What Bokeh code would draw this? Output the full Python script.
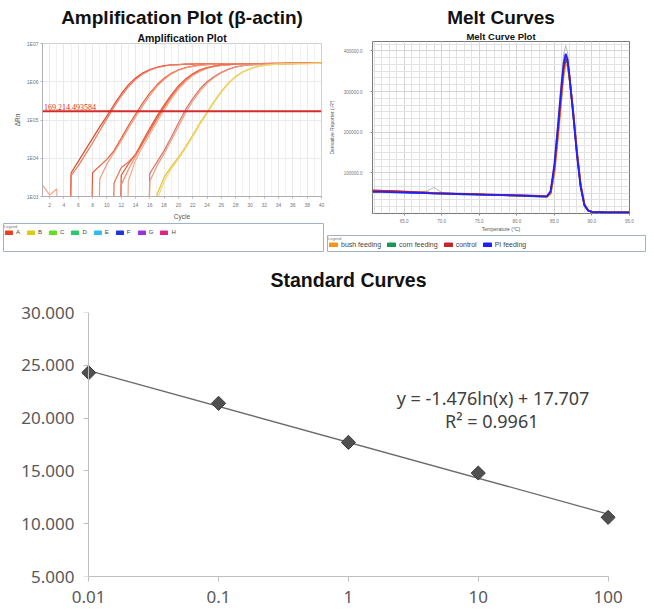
import numpy as np
from bokeh.plotting import figure
from bokeh.layouts import column, row
from bokeh.models import (Range1d, FixedTicker, Title, Label, Legend, LegendItem, LinearAxis,
                          NumeralTickFormatter, Span, CustomJSTickFormatter)
from bokeh.embed import file_html
from bokeh.resources import INLINE

# ---------------- data: amplification plot (log10 dRn per cycle) ----------------
LOW = -6.0   # no signal yet (below the plotted range)
cycles = list(range(1, 41))
amp_A1 = [LOW, LOW, LOW, LOW, 3.62, 3.92, 4.22, 4.52, 4.82, 5.10, 5.40, 5.68, 5.92, 6.10, 6.23, 6.32, 6.38, 6.42, 6.44, 6.45,
          6.46, 6.46, 6.47, 6.47, 6.47, 6.47, 6.47, 6.47, 6.47, 6.47, 6.47, 6.48, 6.48, 6.48, 6.48, 6.48, 6.48, 6.48, 6.48, 6.48]
amp_A2 = [LOW, LOW, LOW, LOW, 3.55, 3.80, 4.10, 4.40, 4.72, 5.03, 5.34, 5.62, 5.87, 6.06, 6.20, 6.30, 6.37, 6.41, 6.44, 6.45,
          6.46, 6.47, 6.47, 6.47, 6.47, 6.47, 6.47, 6.47, 6.47, 6.47, 6.47, 6.47, 6.48, 6.48, 6.48, 6.48, 6.48, 6.48, 6.48, 6.48]
amp_B1 = [LOW, LOW, LOW, LOW, LOW, LOW, LOW, 3.62, 3.80, 3.97, 4.20, 4.52, 4.85, 5.15, 5.44, 5.70, 5.92, 6.09, 6.22, 6.31,
          6.37, 6.41, 6.44, 6.45, 6.46, 6.47, 6.47, 6.47, 6.47, 6.47, 6.47, 6.47, 6.47, 6.48, 6.48, 6.48, 6.48, 6.48, 6.48, 6.48]
amp_B2 = [LOW, LOW, LOW, LOW, LOW, LOW, LOW, LOW, 3.45, 3.85, 4.15, 4.45, 4.78, 5.08, 5.37, 5.64, 5.88, 6.06, 6.20, 6.30,
          6.36, 6.40, 6.43, 6.45, 6.46, 6.46, 6.47, 6.47, 6.47, 6.47, 6.47, 6.47, 6.47, 6.47, 6.48, 6.48, 6.48, 6.48, 6.48, 6.48]
amp_C1 = [LOW, LOW, LOW, LOW, LOW, LOW, LOW, LOW, LOW, LOW, LOW, 3.55, 3.85, 4.10, 4.45, 4.78, 5.10, 5.39, 5.66, 5.89,
          6.07, 6.21, 6.31, 6.37, 6.41, 6.44, 6.45, 6.46, 6.47, 6.47, 6.47, 6.47, 6.47, 6.47, 6.48, 6.48, 6.48, 6.48, 6.48, 6.48]
amp_C2 = [LOW, LOW, LOW, LOW, LOW, LOW, LOW, LOW, LOW, LOW, LOW, 3.30, 3.70, 4.05, 4.38, 4.70, 5.02, 5.32, 5.60, 5.84,
          6.03, 6.18, 6.29, 6.36, 6.40, 6.43, 6.45, 6.46, 6.47, 6.47, 6.47, 6.47, 6.47, 6.47, 6.48, 6.48, 6.48, 6.48, 6.48, 6.48]
amp_C3 = [LOW, LOW, LOW, LOW, LOW, LOW, LOW, LOW, LOW, LOW, LOW, LOW, 3.40, 3.95, 4.30, 4.62, 4.95, 5.26, 5.55, 5.80,
          6.00, 6.16, 6.27, 6.35, 6.40, 6.43, 6.45, 6.46, 6.46, 6.47, 6.47, 6.47, 6.47, 6.47, 6.47, 6.48, 6.48, 6.48, 6.48, 6.48]
amp_C4 = [LOW, LOW, LOW, LOW, LOW, LOW, LOW, LOW, LOW, LOW, 3.35, 3.75, 3.90, 4.10, 4.40, 4.72, 5.05, 5.35, 5.63, 5.87,
          6.05, 6.20, 6.30, 6.36, 6.41, 6.44, 6.45, 6.46, 6.47, 6.47, 6.47, 6.47, 6.47, 6.47, 6.48, 6.48, 6.48, 6.48, 6.48, 6.48]
amp_D1 = [LOW, LOW, LOW, LOW, LOW, LOW, LOW, LOW, LOW, LOW, LOW, LOW, LOW, LOW, LOW, 3.60, 3.90, 4.20, 4.55, 4.92,
          5.27, 5.56, 5.81, 6.00, 6.14, 6.25, 6.33, 6.39, 6.42, 6.44, 6.45, 6.46, 6.47, 6.47, 6.47, 6.47, 6.48, 6.48, 6.48, 6.48]
amp_D2 = [LOW, LOW, LOW, LOW, LOW, LOW, LOW, LOW, LOW, LOW, LOW, LOW, LOW, LOW, LOW, 3.40, 3.80, 4.12, 4.47, 4.83,
          5.19, 5.49, 5.75, 5.96, 6.11, 6.23, 6.32, 6.38, 6.42, 6.44, 6.45, 6.46, 6.47, 6.47, 6.47, 6.47, 6.48, 6.48, 6.48, 6.48]
amp_E1 = [LOW, LOW, LOW, LOW, LOW, LOW, LOW, LOW, LOW, LOW, LOW, LOW, LOW, LOW, LOW, LOW, 3.05, 3.50, 3.78, 4.02,
          4.30, 4.60, 4.92, 5.20, 5.49, 5.75, 5.97, 6.14, 6.26, 6.34, 6.40, 6.43, 6.45, 6.46, 6.47, 6.47, 6.47, 6.47, 6.48, 6.48]
amp_E2 = [LOW, LOW, LOW, LOW, LOW, LOW, LOW, LOW, LOW, LOW, LOW, LOW, LOW, LOW, LOW, LOW, 2.90, 3.40, 3.72, 3.98,
          4.26, 4.56, 4.88, 5.17, 5.46, 5.72, 5.95, 6.12, 6.25, 6.33, 6.39, 6.43, 6.45, 6.46, 6.47, 6.47, 6.47, 6.47, 6.48, 6.48]
amp_N = [3.30, 3.04, 3.20, LOW, LOW, LOW, LOW, LOW, LOW, LOW, LOW, LOW, LOW, LOW, LOW, LOW, LOW, LOW, LOW, LOW,
         LOW, LOW, LOW, LOW, LOW, LOW, LOW, LOW, LOW, LOW, LOW, LOW, LOW, LOW, LOW, LOW, LOW, LOW, LOW, LOW]
amp_curves = [amp_N, amp_A1, amp_A2, amp_B1, amp_B2, amp_C1, amp_C2, amp_C3, amp_C4, amp_D1, amp_D2, amp_E1, amp_E2]
amp_colors = ["#f2a88e", "#e4472b", "#f07a5c", "#ea5a3a", "#f19a7a", "#e2502f", "#ef8c6c", "#f3a98c",
              "#e97050", "#d9735f", "#eb9c86", "#e6c02a", "#f0d878"]
threshold = 169214.493584
amp_yticks = [1e3, 1e4, 1e5, 1e6, 1e7]
amp_xticks = list(range(2, 41, 2))
well_labels = ["A", "B", "C", "D", "E", "F", "G", "H"]
well_colors = ["#e8401c", "#d9cc10", "#66dd22", "#22cc66", "#33bbee", "#2233dd", "#9933dd", "#dd2288"]

# ---------------- data: melt curves (derivative reporter, x 1e5) ----------------
melt_temp = [60.8, 62.0, 64.0, 66.0, 68.0, 69.0, 70.0, 72.0, 74.0, 76.0, 78.0, 80.0, 82.0, 83.0, 84.0, 84.5,
             85.0, 85.5, 86.0, 86.25, 86.5, 86.75, 87.0, 87.5, 88.0, 88.5, 89.0, 89.5, 90.0, 92.0, 95.0]
melt_other = [0.52, 0.53, 0.53, 0.52, 0.55, 0.64, 0.52, 0.49, 0.48, 0.47, 0.46, 0.45, 0.44, 0.43, 0.42, 0.56,
              1.25, 2.35, 3.45, 3.92, 4.13, 3.96, 3.50, 2.45, 1.40, 0.62, 0.19, 0.06, 0.03, 0.03, 0.03]
melt_corn = [0.55, 0.55, 0.54, 0.52, 0.51, 0.50, 0.49, 0.48, 0.47, 0.46, 0.45, 0.44, 0.43, 0.42, 0.41, 0.50,
             1.05, 2.00, 3.05, 3.52, 3.76, 3.70, 3.36, 2.48, 1.50, 0.68, 0.21, 0.07, 0.04, 0.03, 0.03]
melt_bush = [0.54, 0.54, 0.53, 0.52, 0.51, 0.50, 0.49, 0.48, 0.47, 0.46, 0.45, 0.44, 0.43, 0.42, 0.41, 0.48,
             0.98, 1.90, 2.95, 3.42, 3.66, 3.64, 3.35, 2.52, 1.56, 0.72, 0.24, 0.08, 0.04, 0.03, 0.03]
melt_control = [0.57, 0.56, 0.55, 0.53, 0.51, 0.50, 0.50, 0.49, 0.48, 0.47, 0.46, 0.45, 0.44, 0.43, 0.42, 0.52,
                1.10, 2.05, 3.10, 3.58, 3.82, 3.74, 3.38, 2.50, 1.52, 0.70, 0.22, 0.08, 0.04, 0.03, 0.03]
melt_pi = [0.53, 0.53, 0.52, 0.51, 0.50, 0.49, 0.49, 0.48, 0.47, 0.46, 0.45, 0.44, 0.43, 0.42, 0.42, 0.55,
           1.20, 2.20, 3.25, 3.70, 3.93, 3.80, 3.40, 2.45, 1.45, 0.65, 0.20, 0.07, 0.04, 0.03, 0.03]
melt_scale = 1e5
melt_series = [melt_other, melt_corn, melt_bush, melt_control, melt_pi]
melt_line_colors = ["#b8b8b8", "#1a9850", "#f7941d", "#c1272d", "#2020ff"]
melt_line_widths = [1.0, 1.8, 1.8, 1.8, 1.8]
melt_groups = ["bush feeding", "corn feeding", "control", "PI feeding"]
melt_group_colors = ["#f7941d", "#1a9850", "#c1272d", "#1f1fff"]
melt_xticks = [65, 70, 75, 80, 85, 90, 95]
melt_yticks = [1e5, 2e5, 3e5, 4e5]

# ---------------- data: standard curve ----------------
conc = [0.01, 0.1, 1, 10, 100]
ct = [24.3, 21.4, 17.7, 14.8, 10.6]
fit_slope = -1.476
fit_intercept = 17.707
fit_r2 = 0.9961
std_yticks = [5, 10, 15, 20, 25, 30]

FONT = "Liberation Sans"


def make_title(text, size, standoff, offset):
    return Title(text=text, align="center", offset=offset, text_font=FONT, text_font_size=size,
                 text_font_style="bold", text_color="#111111", standoff=standoff)


# ================= Amplification plot =================
amp = figure(width=325, height=222, x_range=Range1d(1, 40), y_range=Range1d(1e3, 1e7),
             y_axis_type="log", output_backend="svg", toolbar_location=None, frame_align=False,
             min_border_left=42, min_border_right=4, min_border_top=43, min_border_bottom=24,
             title=make_title("Amplification Plot (β-actin)", "19px", 3, -18))
amp.add_layout(make_title("Amplification Plot", "10.5px", 0, -17), "above")
for vals, col in zip(amp_curves, amp_colors):
    amp.line(cycles, [10 ** v for v in vals], line_color=col, line_width=1.2)
amp.add_layout(Span(location=threshold, dimension="width", line_color="#d62b2b", line_width=2))
thr_label = Label(x=1.2, y=threshold, text=f"{threshold:,.6f}", y_offset=1.5,
                  text_font_size="8px", text_color="#d62b2b")
thr_label.text_font = "Liberation Serif"
amp.add_layout(thr_label)
amp.xaxis.ticker = FixedTicker(ticks=amp_xticks, minor_ticks=cycles)
amp.yaxis.ticker = FixedTicker(ticks=amp_yticks)
amp.yaxis.formatter = CustomJSTickFormatter(code="return '1E0' + Math.round(Math.log10(tick));")
amp.xaxis.axis_label = "Cycle"
amp.yaxis.axis_label = "ΔRn"
for ax in amp.axis:
    ax.axis_line_color = "#b0b0b0"
    ax.major_tick_line_color = "#b0b0b0"
    ax.major_tick_out = 2
    ax.major_tick_in = 0
    ax.minor_tick_line_color = None
    ax.major_label_text_font = FONT
    ax.major_label_text_font_size = "5px"
    ax.major_label_text_color = "#777777"
    ax.major_label_standoff = 2
    ax.axis_label_text_font = FONT
    ax.axis_label_text_font_size = "6.5px"
    ax.axis_label_text_font_style = "normal"
    ax.axis_label_text_color = "#555555"
    ax.axis_label_standoff = 3
amp.xgrid.grid_line_color = "#e9e9e9"
amp.xgrid.minor_grid_line_color = "#f2f2f2"
amp.ygrid.grid_line_color = "#e9e9e9"
amp.outline_line_color = "#d0d0d0"


def legend_box(width, height, labels, colors, mb, font_size, spacing, label_width, glyph_w):
    f = figure(width=width, height=height, x_range=Range1d(0, 1), y_range=Range1d(0, 1),
               x_axis_location=None, y_axis_location=None, output_backend="svg",
               toolbar_location=None, frame_align=False,
               min_border_left=mb[0], min_border_right=mb[1],
               min_border_top=mb[2], min_border_bottom=mb[3])
    f.grid.visible = False
    f.outline_line_color = "#9fb3cc"
    items = []
    for lab, col in zip(labels, colors):
        r = f.quad(left=[0], right=[0], top=[0], bottom=[0], fill_color=col, line_color=col,
                   visible=False)
        items.append(LegendItem(label=lab, renderers=[r]))
    leg = Legend(items=items, orientation="horizontal", location="top_left",
                 border_line_color=None, background_fill_alpha=0,
                 inactive_fill_alpha=0,
                 label_text_font=FONT, label_text_font_size=font_size, label_text_color="#444444",
                 glyph_width=glyph_w, glyph_height=5, label_standoff=3, spacing=spacing,
                 label_width=label_width, label_height=5,
                 padding=1, margin=1,
                 title="Legend", title_text_font=FONT, title_text_font_size="4px",
                 title_text_font_style="normal", title_text_color="#777777", title_standoff=0)
    f.add_layout(leg)
    return f


amp_leg = legend_box(325, 30, well_labels, well_colors, (3, 2, 1, 1), "6px", 6, 4, 9)

# ================= Melt curves =================
melt = figure(width=329, height=234, x_range=Range1d(60.8, 95.0), y_range=Range1d(0, 4.23e5),
              output_backend="svg", toolbar_location=None, frame_align=False,
              min_border_left=46, min_border_right=25, min_border_top=41, min_border_bottom=16,
              title=make_title("Melt Curves", "19px", 2, -15))
melt.add_layout(make_title("Melt Curve Plot", "9.5px", 0, -15), "above")
for vals, col, lw in zip(melt_series, melt_line_colors, melt_line_widths):
    melt.line(melt_temp, [v * melt_scale for v in vals], line_color=col, line_width=lw)
melt.xaxis.ticker = FixedTicker(ticks=melt_xticks, minor_ticks=list(range(61, 96)))
melt.yaxis.ticker = FixedTicker(ticks=melt_yticks, minor_ticks=list(np.arange(0, 4.3e5, 1e5 / 6)))
melt.xaxis.formatter = NumeralTickFormatter(format="0.0")
melt.yaxis.formatter = NumeralTickFormatter(format="0.0")
melt.xaxis.axis_label = "Temperature (°C)"
melt.yaxis.axis_label = "Derivative Reporter (-R')"
for ax in melt.axis:
    ax.axis_line_color = None
    ax.major_tick_line_color = "#888888"
    ax.major_tick_out = 2
    ax.major_tick_in = 0
    ax.minor_tick_line_color = None
    ax.major_label_text_font = FONT
    ax.major_label_text_font_size = "4.5px"
    ax.major_label_text_color = "#777777"
    ax.major_label_standoff = 1
    ax.axis_label_text_font = FONT
    ax.axis_label_text_font_size = "5px"
    ax.axis_label_text_font_style = "normal"
    ax.axis_label_text_color = "#555555"
    ax.axis_label_standoff = 0
melt.yaxis.major_label_standoff = 6
melt.yaxis.axis_label_standoff = 6
melt.grid.grid_line_color = "#d4d4d4"
melt.grid.minor_grid_line_color = "#e2e2e2"
melt.outline_line_color = "#777777"

melt_leg = legend_box(329, 18, melt_groups, melt_group_colors, (2, 9, 1, 1), "7px", 5, 10, 10)

# ================= Standard curve =================
std = figure(width=654, height=359, x_axis_type="log", x_range=Range1d(0.0088, 114),
             y_range=Range1d(5, 30), output_backend="svg", toolbar_location=None, frame_align=False,
             min_border_left=81, min_border_right=39, min_border_top=60, min_border_bottom=35,
             title=make_title("Standard Curves", "19.5px", 0, -25))
# empty spacer line between the title and the plot area
std.add_layout(Title(text=" ", text_font_size="16px", standoff=3), "above")
fit_x = [min(conc), max(conc)]
fit_y = [fit_slope * np.log(x) + fit_intercept for x in fit_x]
std.line(fit_x, fit_y, line_color="#6b6b6b", line_width=1.3)
std.scatter(conc, ct, marker="square", angle=np.pi / 4, size=10,
            fill_color="#505050", line_color="#3a3a3a")
std.add_layout(Label(x=13.0, y=21.9, text=f"y = {fit_slope}ln(x) + {fit_intercept}", text_align="center",
                     text_baseline="middle", text_font="Noto Sans", text_font_size="18px",
                     text_color="#404040"))
std.add_layout(Label(x=12.7, y=19.7, text=f"R² = {fit_r2}", text_align="center",
                     text_baseline="middle", text_font="Noto Sans", text_font_size="18px",
                     text_color="#404040"))
std.xaxis.ticker = FixedTicker(ticks=conc)
std.xaxis.formatter = NumeralTickFormatter(format="0.[00]")
std.xaxis.bounds = (0.01, 100)
# labels of the value axis sit at the frame edge
std.yaxis.ticker = FixedTicker(ticks=std_yticks)
std.yaxis.formatter = NumeralTickFormatter(format="0.000")
std.yaxis.axis_line_color = None
std.yaxis.major_tick_line_color = None
std.yaxis.major_tick_out = 0
std.yaxis.major_tick_in = 0
# axis line and ticks drawn through the 0.01 column
line_axis = LinearAxis(fixed_location=0.01, bounds=(5, 30), ticker=FixedTicker(ticks=std_yticks),
                       major_label_text_alpha=0, major_label_text_font_size="1px",
                       axis_line_color="#bfbfbf", major_tick_line_color="#bfbfbf",
                       major_tick_out=5, major_tick_in=0, minor_tick_line_color=None)
std.add_layout(line_axis, "left")
for ax in [std.xaxis[0], std.yaxis[0]]:
    ax.minor_tick_line_color = None
    ax.major_label_text_font = "Noto Sans"
    ax.major_label_text_font_size = "17px"
    ax.major_label_text_color = "#595959"
std.xaxis.axis_line_color = "#bfbfbf"
std.xaxis.major_tick_line_color = "#bfbfbf"
std.xaxis.major_tick_out = 5
std.xaxis.major_tick_in = 0
std.xaxis.major_label_standoff = 9
std.yaxis[0].major_label_standoff = 7
std.grid.visible = False
std.outline_line_color = None

layout = column(row(column(amp, amp_leg), column(melt, melt_leg)), std)
open("out.html", "w").write(file_html(layout, INLINE))
